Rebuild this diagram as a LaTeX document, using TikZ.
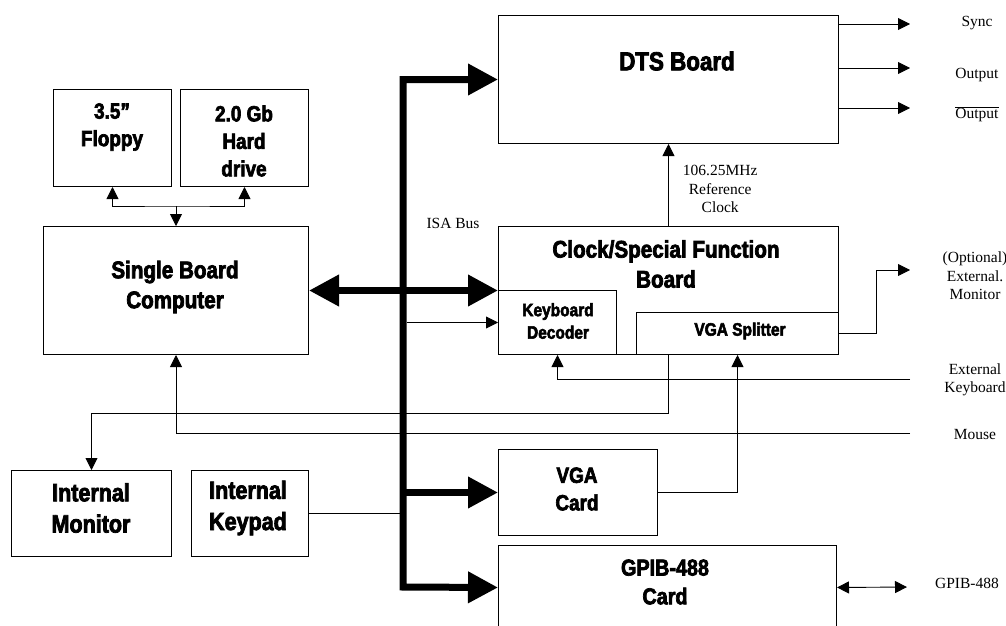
\documentclass[tikz,border=0pt]{standalone}
\usepackage{fontspec}
\setmainfont{Liberation Serif}
\newfontfamily\impact{Liberation Sans Bold}[FakeStretch=0.86,FakeBold=3]
\usetikzlibrary{arrows.meta}

\tikzset{
  box/.style={draw, line width=1pt, anchor=north west, inner sep=0pt},
  title/.style={font=\impact\fontsize{#1}{\the\dimexpr#1pt*5/4\relax}\selectfont, align=center, inner sep=0pt},
  title/.default=24,
  lbl/.style={font=\fontsize{15.5}{18.5}\selectfont, align=center, inner sep=0pt},
  wire/.style={line width=0.9pt},
  arr/.style={line width=0.9pt, -{Triangle[length=12pt,width=12pt]}},
  darr/.style={line width=0.9pt, {Triangle[length=12pt,width=12pt]}-{Triangle[length=12pt,width=12pt]}},
  bus/.style={line width=7pt, line join=miter, {Triangle[length=30pt,width=30pt]}-{Triangle[length=30pt,width=30pt]}},
  busarr/.style={line width=7pt, -{Triangle[length=30pt,width=30pt]}},
}

\begin{document}
\begin{tikzpicture}[x=1pt, y=-1pt]
        \useasboundingbox (0,0) rectangle (1006,626);

        % boxes
        \node[box, minimum width=118pt, minimum height=97pt] (floppy) at (53,89) {};
        \node[box, minimum width=128pt, minimum height=97pt] (hd) at (180,89) {};
        \node[box, minimum width=265pt, minimum height=128pt] (sbc) at (43,226) {};
        \node[box, minimum width=340pt, minimum height=128pt] (dts) at (498,15) {};
        \node[box, minimum width=340pt, minimum height=128pt] (clk) at (498,226) {};
        \node[box, minimum width=118pt, minimum height=64pt] (kbd) at (498,290) {};
        \node[box, minimum width=202pt, minimum height=42pt] (split) at (636,312) {};
        \node[box, minimum width=160pt, minimum height=86pt] (imon) at (11,470) {};
        \node[box, minimum width=117pt, minimum height=86pt] (ikey) at (191,470) {};
        \node[box, minimum width=159pt, minimum height=86pt] (vga) at (498,449) {};
        \node[box, minimum width=338pt, minimum height=84pt] (gpib) at (498,545) {};

        % box titles
        \node[title=22] (floppy-t) at (112,127) {3.5”\\Floppy};
        \node[title=22] (hd-t) at (244,141) {2.0 Gb\\Hard\\drive};
        \node[title] (sbc-t) at (175,287) {Single Board\\Computer};
        \node[title=26] (dts-t) at (677,61) {DTS Board};
        \node[title] (clk-t) at (666,264) {Clock/Special Function\\Board};
        \node[title=18] (kbd-t) at (558,321) {Keyboard\\Decoder};
        \node[title=18] (split-t) at (740,331) {VGA Splitter};
        \node[title=25] (imon-t) at (91,508) {Internal\\Monitor};
        \node[title=25] (ikey-t) at (248,508) {Internal\\Keypad};
        \node[title=22] (vga-t) at (577,489) {VGA\\Card};
        \node[title=23] (gpib-t) at (665,582) {GPIB-488\\Card};

        % outside ends
        \coordinate (bb) at (403,587);
        \coordinate (j) at (176,206);
        \coordinate (syncend) at (910,24);
        \coordinate (outend) at (910,68);
        \coordinate (noutend) at (910,108);
        \coordinate (monend) at (910,270);
        \coordinate (kbdin) at (910,379);
        \coordinate (mousein) at (910,433);
        \coordinate (gpibend) at (907,587);

        % ISA bus
        \draw[bus] (dts.west) -| (bb) -- (gpib.west);
        \draw[busarr] (bb |- vga.west) -- (vga.west);
        \draw[bus] (sbc.east) -- (sbc.east -| clk.west);
        \node[lbl] (isa) at (453,223) {ISA Bus};

        % thin lines
        \draw[arr] (j) -- (sbc.north);
        \draw[darr] (floppy.south) |- (j) -| (hd.south);
        \draw[arr] (bb |- kbd.west) ++(4,0) -- (kbd.west);
        \draw[wire] (ikey.east) -- ++(92,0);
        \draw[arr] (clk.north) -- node[lbl, right=14pt, pos=0.45] {106.25MHz\\Reference\\Clock} (dts.south);
        \draw[arr] (dts.east |- syncend) -- (syncend);
        \draw[arr] (dts.east |- outend) -- (outend);
        \draw[arr] (dts.east |- noutend) -- (noutend);
        \draw[arr] (split.east) -- ++(37,0) |- (monend);
        \draw[arr] (kbdin) -| (kbd.south);
        \draw[arr] (mousein) -| (sbc.south);
        \draw[arr] (vga.east) -| (split.south);
        \draw[arr] (clk.south) -- ++(0,58) -| (imon.north);
        \draw[darr] (gpib.east) -- (gpibend);

        % right labels
        \node[lbl] (sync-l) at (977,23) {Sync};
        \node[lbl] (out-l) at (977,75) {Output};
        \node[lbl] (nout-l) at (977,114) {$\overline{\mbox{Output}}$};
        \node[lbl] (mon-l) at (975,276) {(Optional)\\External.\\Monitor};
        \node[lbl] (kbd-l) at (975,380) {External\\Keyboard};
        \node[lbl] (mouse-l) at (975,434) {Mouse};
        \node[lbl] (gpib-l) at (967,583) {GPIB-488};
      \end{tikzpicture}
\end{document}
